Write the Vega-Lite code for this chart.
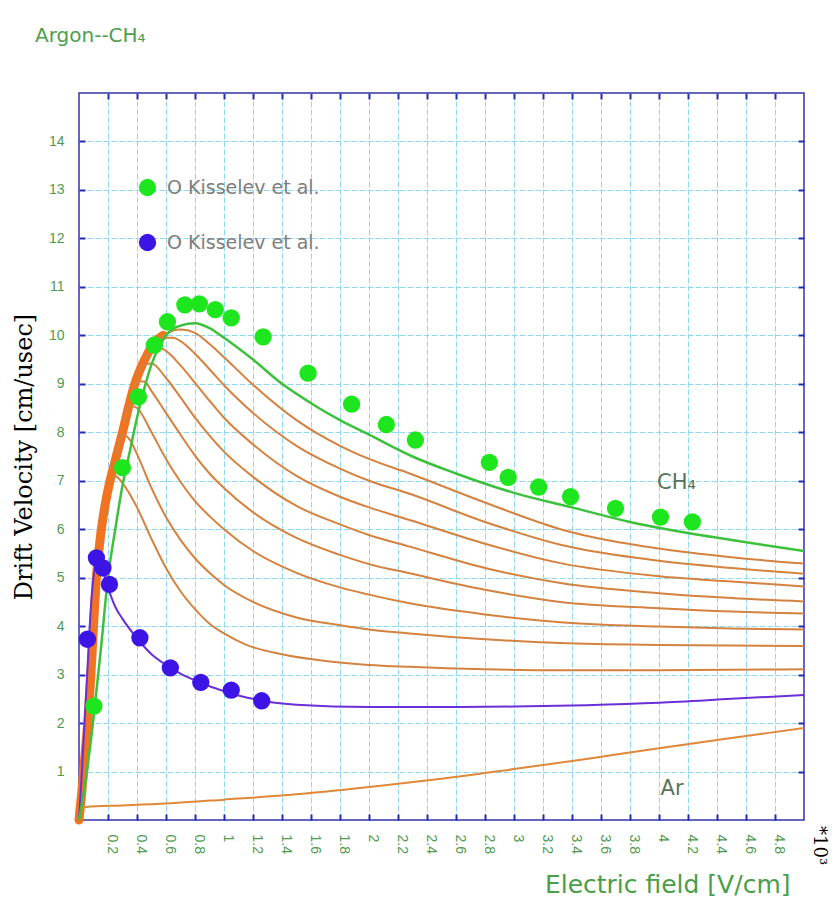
{
  "$schema": "https://vega.github.io/schema/vega-lite/v6.json",
  "width": 725,
  "height": 727,
  "autosize": {"type": "none"},
  "padding": {"left": 79, "top": 93, "right": 33, "bottom": 89},
  "background": "white",
  "title": {"text": "Argon--CH₄", "anchor": "start", "frame": "group", "dx": -44, "offset": 46, "font": "DejaVu Sans", "fontSize": 20, "fontWeight": "normal", "color": "#4e9e4e"},
  "datasets": {
    "curves": [
      {"series": "band", "x": 0, "y": 0}, {"series": "band", "x": 0.02, "y": 0.6}, {"series": "band", "x": 0.04, "y": 1.3}, {"series": "band", "x": 0.06, "y": 2.0}, {"series": "band", "x": 0.08, "y": 2.9}, {"series": "band", "x": 0.1, "y": 4.0}, {"series": "band", "x": 0.12, "y": 5.0}, {"series": "band", "x": 0.15, "y": 5.9}, {"series": "band", "x": 0.18, "y": 6.5}, {"series": "band", "x": 0.21, "y": 6.95}, {"series": "band", "x": 0.24, "y": 7.3}, {"series": "band", "x": 0.27, "y": 7.65}, {"series": "band", "x": 0.3, "y": 8.0}, {"series": "band", "x": 0.34, "y": 8.5}, {"series": "band", "x": 0.38, "y": 8.95}, {"series": "band", "x": 0.43, "y": 9.35}, {"series": "band", "x": 0.47, "y": 9.6}, {"series": "band", "x": 0.52, "y": 9.85}, {"series": "band", "x": 0.58, "y": 10.0},

      {"series": "Ar", "x": 0, "y": 0}, {"series": "Ar", "x": 0.015, "y": 0.22}, {"series": "Ar", "x": 0.05, "y": 0.27}, {"series": "Ar", "x": 0.3, "y": 0.3}, {"series": "Ar", "x": 0.6, "y": 0.34}, {"series": "Ar", "x": 1.0, "y": 0.42}, {"series": "Ar", "x": 1.5, "y": 0.53}, {"series": "Ar", "x": 2.0, "y": 0.68}, {"series": "Ar", "x": 2.5, "y": 0.85}, {"series": "Ar", "x": 3.0, "y": 1.05}, {"series": "Ar", "x": 3.5, "y": 1.26}, {"series": "Ar", "x": 4.0, "y": 1.48}, {"series": "Ar", "x": 4.5, "y": 1.69}, {"series": "Ar", "x": 5.0, "y": 1.9},

      {"series": "mix90", "x": 0.55, "y": 9.93}, {"series": "mix90", "x": 0.6, "y": 10.03}, {"series": "mix90", "x": 0.65, "y": 10.1}, {"series": "mix90", "x": 0.7, "y": 10.12}, {"series": "mix90", "x": 0.8, "y": 10.05}, {"series": "mix90", "x": 0.9, "y": 9.82}, {"series": "mix90", "x": 1.0, "y": 9.55}, {"series": "mix90", "x": 1.2, "y": 8.98}, {"series": "mix90", "x": 1.5, "y": 8.25}, {"series": "mix90", "x": 1.8, "y": 7.72}, {"series": "mix90", "x": 2.0, "y": 7.45}, {"series": "mix90", "x": 2.28, "y": 7.15}, {"series": "mix90", "x": 2.8, "y": 6.55}, {"series": "mix90", "x": 3.32, "y": 6.0}, {"series": "mix90", "x": 4.0, "y": 5.6}, {"series": "mix90", "x": 4.5, "y": 5.42}, {"series": "mix90", "x": 5.0, "y": 5.29},

      {"series": "mix80", "x": 0.5, "y": 9.75}, {"series": "mix80", "x": 0.55, "y": 9.88}, {"series": "mix80", "x": 0.6, "y": 9.95}, {"series": "mix80", "x": 0.65, "y": 9.95}, {"series": "mix80", "x": 0.7, "y": 9.88}, {"series": "mix80", "x": 0.8, "y": 9.62}, {"series": "mix80", "x": 0.9, "y": 9.3}, {"series": "mix80", "x": 1.0, "y": 8.97}, {"series": "mix80", "x": 1.2, "y": 8.4}, {"series": "mix80", "x": 1.5, "y": 7.72}, {"series": "mix80", "x": 1.8, "y": 7.25}, {"series": "mix80", "x": 2.0, "y": 7.0}, {"series": "mix80", "x": 2.28, "y": 6.73}, {"series": "mix80", "x": 2.8, "y": 6.15}, {"series": "mix80", "x": 3.32, "y": 5.68}, {"series": "mix80", "x": 4.0, "y": 5.35}, {"series": "mix80", "x": 4.5, "y": 5.2}, {"series": "mix80", "x": 5.0, "y": 5.08},

      {"series": "mix70", "x": 0.45, "y": 9.5}, {"series": "mix70", "x": 0.5, "y": 9.7}, {"series": "mix70", "x": 0.55, "y": 9.75}, {"series": "mix70", "x": 0.6, "y": 9.68}, {"series": "mix70", "x": 0.7, "y": 9.38}, {"series": "mix70", "x": 0.8, "y": 9.02}, {"series": "mix70", "x": 0.9, "y": 8.65}, {"series": "mix70", "x": 1.0, "y": 8.3}, {"series": "mix70", "x": 1.2, "y": 7.75}, {"series": "mix70", "x": 1.5, "y": 7.1}, {"series": "mix70", "x": 1.8, "y": 6.67}, {"series": "mix70", "x": 2.0, "y": 6.45}, {"series": "mix70", "x": 2.28, "y": 6.19}, {"series": "mix70", "x": 2.8, "y": 5.7}, {"series": "mix70", "x": 3.32, "y": 5.3}, {"series": "mix70", "x": 4.0, "y": 5.03}, {"series": "mix70", "x": 4.5, "y": 4.92}, {"series": "mix70", "x": 5.0, "y": 4.82},

      {"series": "mix60", "x": 0.4, "y": 9.15}, {"series": "mix60", "x": 0.45, "y": 9.4}, {"series": "mix60", "x": 0.5, "y": 9.42}, {"series": "mix60", "x": 0.6, "y": 9.12}, {"series": "mix60", "x": 0.7, "y": 8.72}, {"series": "mix60", "x": 0.8, "y": 8.3}, {"series": "mix60", "x": 0.9, "y": 7.93}, {"series": "mix60", "x": 1.0, "y": 7.6}, {"series": "mix60", "x": 1.2, "y": 7.08}, {"series": "mix60", "x": 1.5, "y": 6.48}, {"series": "mix60", "x": 1.8, "y": 6.1}, {"series": "mix60", "x": 2.0, "y": 5.88}, {"series": "mix60", "x": 2.28, "y": 5.64}, {"series": "mix60", "x": 2.8, "y": 5.2}, {"series": "mix60", "x": 3.32, "y": 4.89}, {"series": "mix60", "x": 4.0, "y": 4.68}, {"series": "mix60", "x": 4.5, "y": 4.58}, {"series": "mix60", "x": 5.0, "y": 4.51},

      {"series": "mix50", "x": 0.36, "y": 8.8}, {"series": "mix50", "x": 0.4, "y": 9.05}, {"series": "mix50", "x": 0.45, "y": 9.05}, {"series": "mix50", "x": 0.5, "y": 8.85}, {"series": "mix50", "x": 0.6, "y": 8.4}, {"series": "mix50", "x": 0.7, "y": 7.95}, {"series": "mix50", "x": 0.8, "y": 7.52}, {"series": "mix50", "x": 0.9, "y": 7.15}, {"series": "mix50", "x": 1.0, "y": 6.85}, {"series": "mix50", "x": 1.2, "y": 6.35}, {"series": "mix50", "x": 1.5, "y": 5.82}, {"series": "mix50", "x": 1.8, "y": 5.47}, {"series": "mix50", "x": 2.0, "y": 5.28}, {"series": "mix50", "x": 2.28, "y": 5.09}, {"series": "mix50", "x": 2.8, "y": 4.75}, {"series": "mix50", "x": 3.32, "y": 4.5}, {"series": "mix50", "x": 4.0, "y": 4.37}, {"series": "mix50", "x": 4.5, "y": 4.3}, {"series": "mix50", "x": 5.0, "y": 4.26},

      {"series": "mix40", "x": 0.31, "y": 8.2}, {"series": "mix40", "x": 0.35, "y": 8.55}, {"series": "mix40", "x": 0.4, "y": 8.5}, {"series": "mix40", "x": 0.5, "y": 8.0}, {"series": "mix40", "x": 0.6, "y": 7.45}, {"series": "mix40", "x": 0.7, "y": 6.98}, {"series": "mix40", "x": 0.8, "y": 6.58}, {"series": "mix40", "x": 0.9, "y": 6.27}, {"series": "mix40", "x": 1.0, "y": 6.0}, {"series": "mix40", "x": 1.2, "y": 5.55}, {"series": "mix40", "x": 1.5, "y": 5.1}, {"series": "mix40", "x": 1.8, "y": 4.8}, {"series": "mix40", "x": 2.0, "y": 4.65}, {"series": "mix40", "x": 2.28, "y": 4.47}, {"series": "mix40", "x": 2.8, "y": 4.24}, {"series": "mix40", "x": 3.32, "y": 4.08}, {"series": "mix40", "x": 4.0, "y": 3.99}, {"series": "mix40", "x": 4.5, "y": 3.95}, {"series": "mix40", "x": 5.0, "y": 3.93},

      {"series": "mix30", "x": 0.26, "y": 7.55}, {"series": "mix30", "x": 0.3, "y": 7.95}, {"series": "mix30", "x": 0.35, "y": 7.85}, {"series": "mix30", "x": 0.4, "y": 7.55}, {"series": "mix30", "x": 0.5, "y": 6.85}, {"series": "mix30", "x": 0.6, "y": 6.25}, {"series": "mix30", "x": 0.7, "y": 5.78}, {"series": "mix30", "x": 0.8, "y": 5.4}, {"series": "mix30", "x": 0.9, "y": 5.1}, {"series": "mix30", "x": 1.0, "y": 4.85}, {"series": "mix30", "x": 1.2, "y": 4.5}, {"series": "mix30", "x": 1.5, "y": 4.18}, {"series": "mix30", "x": 1.8, "y": 4.02}, {"series": "mix30", "x": 2.0, "y": 3.93}, {"series": "mix30", "x": 2.28, "y": 3.85}, {"series": "mix30", "x": 2.8, "y": 3.73}, {"series": "mix30", "x": 3.32, "y": 3.65}, {"series": "mix30", "x": 4.0, "y": 3.61}, {"series": "mix30", "x": 5.0, "y": 3.59},

      {"series": "mix20", "x": 0.21, "y": 6.95}, {"series": "mix20", "x": 0.25, "y": 7.1}, {"series": "mix20", "x": 0.3, "y": 6.95}, {"series": "mix20", "x": 0.4, "y": 6.45}, {"series": "mix20", "x": 0.5, "y": 5.8}, {"series": "mix20", "x": 0.6, "y": 5.2}, {"series": "mix20", "x": 0.7, "y": 4.72}, {"series": "mix20", "x": 0.8, "y": 4.35}, {"series": "mix20", "x": 0.9, "y": 4.05}, {"series": "mix20", "x": 1.0, "y": 3.85}, {"series": "mix20", "x": 1.15, "y": 3.62}, {"series": "mix20", "x": 1.4, "y": 3.42}, {"series": "mix20", "x": 1.7, "y": 3.28}, {"series": "mix20", "x": 2.0, "y": 3.2}, {"series": "mix20", "x": 2.28, "y": 3.16}, {"series": "mix20", "x": 2.8, "y": 3.11}, {"series": "mix20", "x": 3.32, "y": 3.09}, {"series": "mix20", "x": 4.0, "y": 3.09}, {"series": "mix20", "x": 5.0, "y": 3.11},

      {"series": "P10", "x": 0, "y": 0}, {"series": "P10", "x": 0.02, "y": 1.0}, {"series": "P10", "x": 0.04, "y": 2.1}, {"series": "P10", "x": 0.06, "y": 3.2}, {"series": "P10", "x": 0.08, "y": 4.3}, {"series": "P10", "x": 0.1, "y": 5.0}, {"series": "P10", "x": 0.12, "y": 5.35}, {"series": "P10", "x": 0.14, "y": 5.35}, {"series": "P10", "x": 0.17, "y": 5.1}, {"series": "P10", "x": 0.2, "y": 4.8}, {"series": "P10", "x": 0.25, "y": 4.4}, {"series": "P10", "x": 0.3, "y": 4.15}, {"series": "P10", "x": 0.4, "y": 3.75}, {"series": "P10", "x": 0.5, "y": 3.42}, {"series": "P10", "x": 0.6, "y": 3.2}, {"series": "P10", "x": 0.7, "y": 3.02}, {"series": "P10", "x": 0.8, "y": 2.88}, {"series": "P10", "x": 0.9, "y": 2.76}, {"series": "P10", "x": 1.0, "y": 2.66}, {"series": "P10", "x": 1.1, "y": 2.57}, {"series": "P10", "x": 1.2, "y": 2.5}, {"series": "P10", "x": 1.3, "y": 2.44}, {"series": "P10", "x": 1.5, "y": 2.38}, {"series": "P10", "x": 2.0, "y": 2.33}, {"series": "P10", "x": 2.5, "y": 2.33}, {"series": "P10", "x": 3.0, "y": 2.34}, {"series": "P10", "x": 3.5, "y": 2.37}, {"series": "P10", "x": 4.0, "y": 2.42}, {"series": "P10", "x": 4.5, "y": 2.5}, {"series": "P10", "x": 5.0, "y": 2.58},

      {"series": "CH4", "x": 0, "y": 0}, {"series": "CH4", "x": 0.05, "y": 0.9}, {"series": "CH4", "x": 0.1, "y": 2.1}, {"series": "CH4", "x": 0.15, "y": 3.5}, {"series": "CH4", "x": 0.2, "y": 5.0}, {"series": "CH4", "x": 0.25, "y": 6.0}, {"series": "CH4", "x": 0.3, "y": 6.9}, {"series": "CH4", "x": 0.35, "y": 7.6}, {"series": "CH4", "x": 0.4, "y": 8.3}, {"series": "CH4", "x": 0.45, "y": 8.9}, {"series": "CH4", "x": 0.5, "y": 9.4}, {"series": "CH4", "x": 0.55, "y": 9.75}, {"series": "CH4", "x": 0.6, "y": 10.0}, {"series": "CH4", "x": 0.7, "y": 10.2}, {"series": "CH4", "x": 0.8, "y": 10.25}, {"series": "CH4", "x": 0.9, "y": 10.15}, {"series": "CH4", "x": 1.0, "y": 9.95}, {"series": "CH4", "x": 1.2, "y": 9.5}, {"series": "CH4", "x": 1.4, "y": 9.0}, {"series": "CH4", "x": 1.6, "y": 8.6}, {"series": "CH4", "x": 1.8, "y": 8.25}, {"series": "CH4", "x": 2.0, "y": 7.95}, {"series": "CH4", "x": 2.3, "y": 7.5}, {"series": "CH4", "x": 2.6, "y": 7.15}, {"series": "CH4", "x": 3.0, "y": 6.75}, {"series": "CH4", "x": 3.4, "y": 6.45}, {"series": "CH4", "x": 3.8, "y": 6.15}, {"series": "CH4", "x": 4.2, "y": 5.92}, {"series": "CH4", "x": 4.6, "y": 5.73}, {"series": "CH4", "x": 5.0, "y": 5.55}
    ],
    "points": [
      {"series": "CH4 data", "x": 0.103, "y": 2.35}, {"series": "CH4 data", "x": 0.3, "y": 7.27}, {"series": "CH4 data", "x": 0.41, "y": 8.73}, {"series": "CH4 data", "x": 0.52, "y": 9.8}, {"series": "CH4 data", "x": 0.61, "y": 10.28}, {"series": "CH4 data", "x": 0.73, "y": 10.63}, {"series": "CH4 data", "x": 0.83, "y": 10.65}, {"series": "CH4 data", "x": 0.94, "y": 10.53}, {"series": "CH4 data", "x": 1.05, "y": 10.36}, {"series": "CH4 data", "x": 1.27, "y": 9.97}, {"series": "CH4 data", "x": 1.58, "y": 9.22}, {"series": "CH4 data", "x": 1.88, "y": 8.58}, {"series": "CH4 data", "x": 2.12, "y": 8.16}, {"series": "CH4 data", "x": 2.32, "y": 7.84}, {"series": "CH4 data", "x": 2.83, "y": 7.38}, {"series": "CH4 data", "x": 2.96, "y": 7.07}, {"series": "CH4 data", "x": 3.17, "y": 6.87}, {"series": "CH4 data", "x": 3.39, "y": 6.67}, {"series": "CH4 data", "x": 3.7, "y": 6.43}, {"series": "CH4 data", "x": 4.01, "y": 6.25}, {"series": "CH4 data", "x": 4.23, "y": 6.15},
      {"series": "P10 data", "x": 0.058, "y": 3.73}, {"series": "P10 data", "x": 0.12, "y": 5.41}, {"series": "P10 data", "x": 0.165, "y": 5.2}, {"series": "P10 data", "x": 0.21, "y": 4.86}, {"series": "P10 data", "x": 0.42, "y": 3.76}, {"series": "P10 data", "x": 0.63, "y": 3.14}, {"series": "P10 data", "x": 0.84, "y": 2.84}, {"series": "P10 data", "x": 1.05, "y": 2.68}, {"series": "P10 data", "x": 1.26, "y": 2.46}
    ],
    "notes": [
      {"label": "CH₄", "x": 4.12, "y": 6.95},
      {"label": "Ar", "x": 4.09, "y": 0.63}
    ],
    "units": [
      {"label": "*10³", "x": 5.0, "y": 0.0}
    ]
  },
  "config": {
    "view": {"stroke": "#3535a8", "strokeWidth": 1.5},
    "axis": {"domain": false, "grid": true, "gridColor": "#8fd8f0", "gridDash": [6, 2], "gridWidth": 1, "tickColor": "#2828b0", "tickWidth": 2, "tickSize": -6, "labelFont": "Liberation Sans", "labelColor": "#4f9a4f", "titleFontWeight": "normal"}
  },
  "resolve": {"axis": {"x": "independent", "y": "independent"}},
  "layer": [
    {
      "data": {"name": "curves"},
      "transform": [{"filter": "datum.series === 'band'"}],
      "mark": {"type": "line", "color": "#f07322", "strokeWidth": 9, "interpolate": "monotone", "strokeCap": "round"},
      "encoding": {
        "x": {"field": "x", "type": "quantitative", "scale": {"domain": [0, 5], "nice": false},
          "axis": {"orient": "bottom", "values": [0.2, 0.4, 0.6, 0.8, 1, 1.2, 1.4, 1.6, 1.8, 2, 2.2, 2.4, 2.6, 2.8, 3, 3.2, 3.4, 3.6, 3.8, 4, 4.2, 4.4, 4.6, 4.8], "format": "~g", "labelAngle": 90, "labelFontSize": 14, "labelPadding": 20, "labelOffset": 3, "labelOverlap": false, "labelFlush": false, "title": "Electric field [V/cm]", "titleFont": "DejaVu Sans", "titleFontSize": 25, "titleColor": "#4a9e4a", "titleX": 711, "titleY": 52, "titleAlign": "right", "titleBaseline": "top"}},
        "y": {"field": "y", "type": "quantitative", "scale": {"domain": [0, 15], "nice": false},
          "axis": {"orient": "left", "values": [1, 2, 3, 4, 5, 6, 7, 8, 9, 10, 11, 12, 13, 14], "labelFontSize": 14, "labelPadding": 21, "title": "Drift Velocity [cm/usec]", "titleFont": "DejaVu Serif", "titleFontSize": 24, "titleColor": "#000000", "titlePadding": 12}}
      }
    },
    {
      "data": {"name": "curves"},
      "transform": [{"filter": "datum.series === 'Ar'"}],
      "mark": {"type": "line", "color": "#e0883a", "strokeWidth": 2, "interpolate": "monotone"},
      "encoding": {
        "x": {"field": "x", "type": "quantitative", "scale": {"domain": [0, 5], "nice": false},
          "axis": {"orient": "top", "values": [0.2, 0.4, 0.6, 0.8, 1, 1.2, 1.4, 1.6, 1.8, 2, 2.2, 2.4, 2.6, 2.8, 3, 3.2, 3.4, 3.6, 3.8, 4, 4.2, 4.4, 4.6, 4.8], "labels": false, "grid": false, "title": null}},
        "y": {"field": "y", "type": "quantitative", "scale": {"domain": [0, 15], "nice": false},
          "axis": {"orient": "right", "values": [1, 2, 3, 4, 5, 6, 7, 8, 9, 10, 11, 12, 13, 14], "labels": false, "grid": false, "title": null}}
      }
    },
    {
      "data": {"name": "curves"},
      "transform": [{"filter": "indexof(datum.series, 'mix') === 0"}],
      "mark": {"type": "line", "color": "#d4823f", "strokeWidth": 2, "interpolate": "monotone"},
      "encoding": {
        "x": {"field": "x", "type": "quantitative", "scale": {"domain": [0, 5], "nice": false}, "axis": null},
        "y": {"field": "y", "type": "quantitative", "scale": {"domain": [0, 15], "nice": false}, "axis": null},
        "detail": {"field": "series", "type": "nominal"}
      }
    },
    {
      "data": {"name": "curves"},
      "transform": [{"filter": "datum.series === 'P10'"}],
      "mark": {"type": "line", "color": "#6b2fd6", "strokeWidth": 2, "interpolate": "monotone"},
      "encoding": {
        "x": {"field": "x", "type": "quantitative", "scale": {"domain": [0, 5], "nice": false}, "axis": null},
        "y": {"field": "y", "type": "quantitative", "scale": {"domain": [0, 15], "nice": false}, "axis": null}
      }
    },
    {
      "data": {"name": "curves"},
      "transform": [{"filter": "datum.series === 'CH4'"}],
      "mark": {"type": "line", "color": "#3dc13d", "strokeWidth": 2.5, "interpolate": "monotone"},
      "encoding": {
        "x": {"field": "x", "type": "quantitative", "scale": {"domain": [0, 5], "nice": false}, "axis": null},
        "y": {"field": "y", "type": "quantitative", "scale": {"domain": [0, 15], "nice": false}, "axis": null}
      }
    },
    {
      "data": {"name": "points"},
      "mark": {"type": "point", "shape": "circle", "filled": true, "size": 300, "opacity": 1},
      "encoding": {
        "x": {"field": "x", "type": "quantitative", "scale": {"domain": [0, 5], "nice": false}, "axis": null},
        "y": {"field": "y", "type": "quantitative", "scale": {"domain": [0, 15], "nice": false}, "axis": null},
        "color": {"field": "series", "type": "nominal", "scale": {"domain": ["CH4 data", "P10 data"], "range": ["#1ee61e", "#3c14e6"]},
          "legend": {"orient": "none", "legendX": 59, "legendY": 85, "title": null, "labelExpr": "'O Kisselev et al.'", "symbolType": "circle", "symbolSize": 300, "symbolStrokeWidth": 0, "labelFont": "DejaVu Sans", "labelFontSize": 19, "labelColor": "#7d7d7d", "labelOffset": 10, "rowPadding": 35, "padding": 0}}
      }
    },
    {
      "data": {"name": "notes"},
      "mark": {"type": "text", "font": "DejaVu Sans", "fontSize": 21, "color": "#5a735a", "align": "center", "baseline": "middle"},
      "encoding": {
        "x": {"field": "x", "type": "quantitative", "scale": {"domain": [0, 5], "nice": false}, "axis": null},
        "y": {"field": "y", "type": "quantitative", "scale": {"domain": [0, 15], "nice": false}, "axis": null},
        "text": {"field": "label"}
      }
    },
    {
      "data": {"name": "units"},
      "mark": {"type": "text", "font": "DejaVu Serif", "fontSize": 18, "color": "#000000", "align": "left", "baseline": "middle", "angle": 90, "dx": 6, "dy": -15},
      "encoding": {
        "x": {"field": "x", "type": "quantitative", "scale": {"domain": [0, 5], "nice": false}, "axis": null},
        "y": {"field": "y", "type": "quantitative", "scale": {"domain": [0, 15], "nice": false}, "axis": null},
        "text": {"field": "label"}
      }
    }
  ]
}
